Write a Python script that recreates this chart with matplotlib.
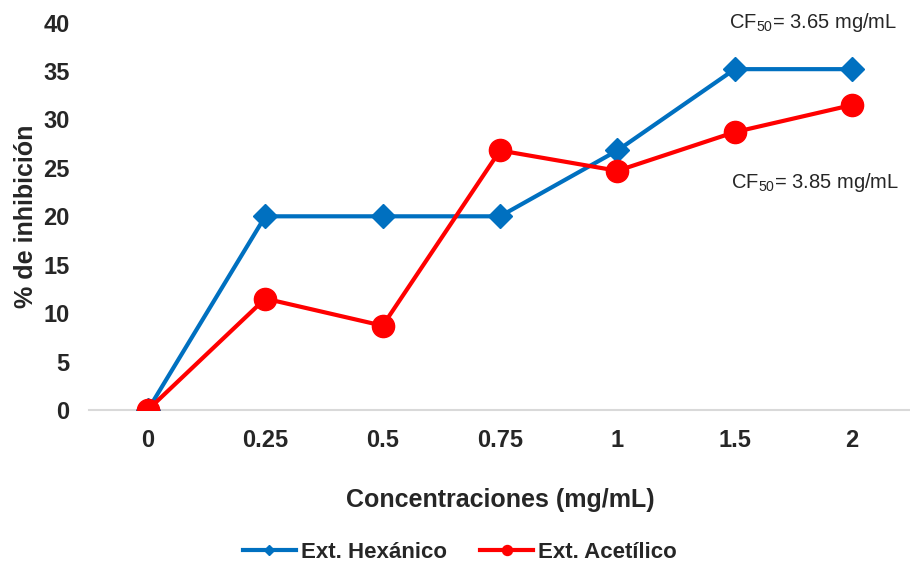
import matplotlib.pyplot as plt

plt.rcParams['font.family'] = ['Liberation Sans', 'DejaVu Sans']

concentraciones = ['0', '0.25', '0.5', '0.75', '1', '1.5', '2']
hexanico = [0, 20, 20, 20, 26.8, 35.2, 35.2]
acetilico = [0, 11.5, 8.7, 26.8, 24.7, 28.7, 31.5]
y_ticks = [0, 5, 10, 15, 20, 25, 30, 35, 40]

fig = plt.figure(figsize=(9.1, 5.67), dpi=100)
ax = fig.add_axes([0.098, 0.277, 0.903, 0.683])

x = range(len(concentraciones))
ax.plot(x, hexanico, color='#0070C0', lw=3, marker='D', ms=12,
        label='Ext. Hexánico', zorder=3)
ax.plot(x, acetilico, color='#FF0000', lw=3, marker='o', ms=16,
        label='Ext. Acetílico', zorder=4)

ax.set_xlim(-0.5, len(concentraciones) - 0.5)
ax.set_ylim(0, 40)
ax.set_xticks(list(x))
ax.set_xticklabels(concentraciones)
ax.set_yticks(y_ticks)
ax.tick_params(length=0, labelsize=17)
ax.tick_params(axis='x', pad=14)
ax.tick_params(axis='y', pad=14)
for lab in ax.get_xticklabels() + ax.get_yticklabels():
    lab.set_fontweight('bold')
    lab.set_color('#262626')

for side in ['top', 'right', 'left']:
    ax.spines[side].set_visible(False)
ax.spines['bottom'].set_color('#D9D9D9')
ax.spines['bottom'].set_linewidth(1.5)
ax.spines['bottom'].set_zorder(1)

ax.set_xlabel('Concentraciones (mg/mL)', fontsize=18, fontweight='bold',
              color='#262626', labelpad=26)
ax.set_ylabel('% de inhibición', fontsize=18, fontweight='bold',
              color='#262626', labelpad=4)

# CF50 notes next to each curve
ax.text(6.38, 40.0, 'CF$_{\\mathregular{50}}$= 3.65 mg/mL',
        ha='right', va='center', fontsize=14.5, color='#262626')
ax.text(6.40, 23.5, 'CF$_{\\mathregular{50}}$= 3.85 mg/mL',
        ha='right', va='center', fontsize=14.5, color='#262626')

leg = fig.legend(loc='center', bbox_to_anchor=(0.505, 0.026), ncol=2,
                 frameon=False, fontsize=16, markerscale=0.45,
                 handlelength=2.4, columnspacing=1.5, handletextpad=0.2)
for t in leg.get_texts():
    t.set_fontweight('bold')
    t.set_color('#262626')

fig.savefig('out.png', dpi=100)
